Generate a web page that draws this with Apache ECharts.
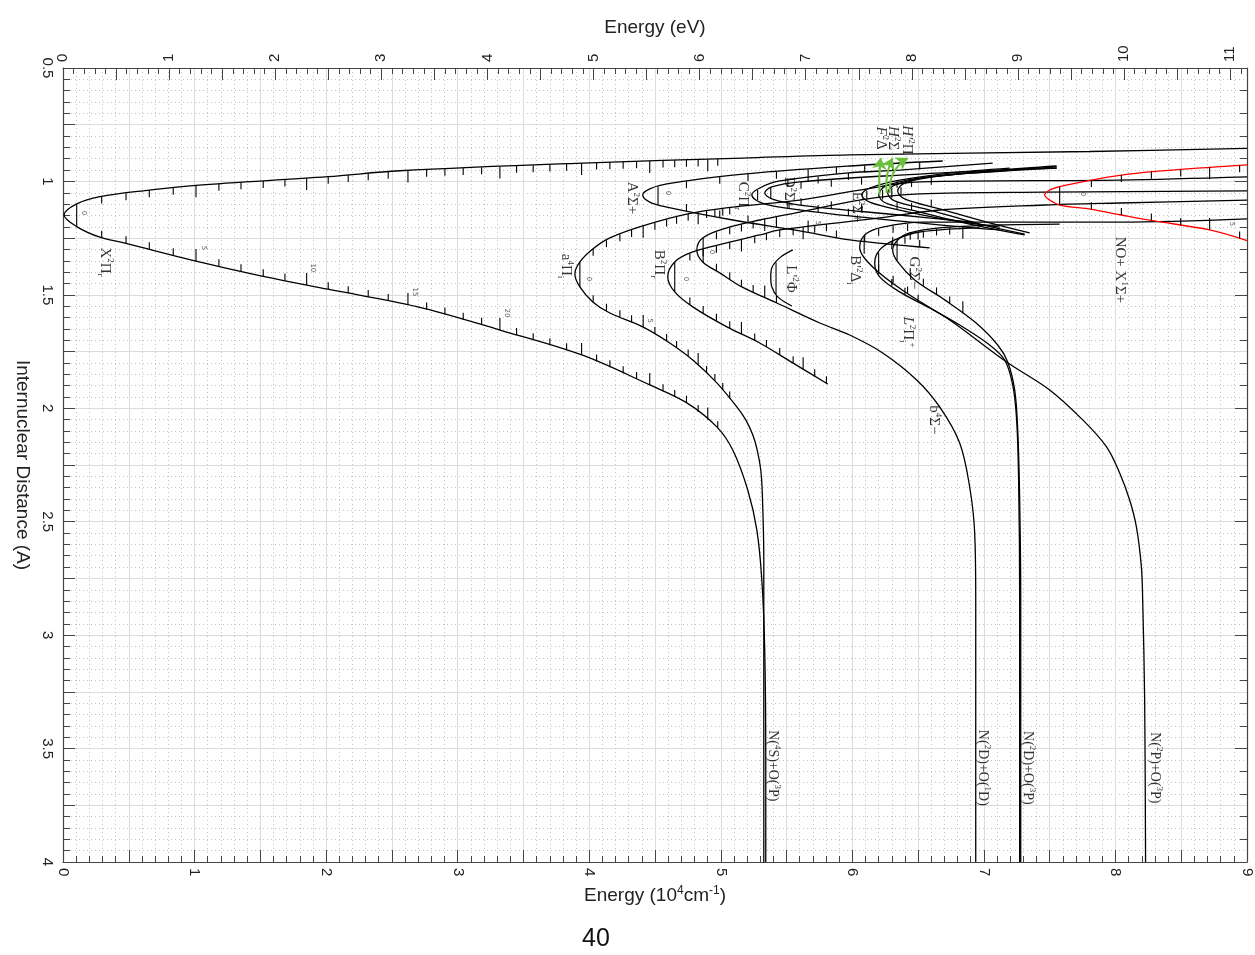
<!DOCTYPE html>
<html><head><meta charset="utf-8">
<script src="https://cdn.jsdelivr.net/npm/echarts@6/dist/echarts.min.js"></script>
<style>html,body{margin:0;padding:0;background:#fff}#c{width:1255px;height:955px}</style>
</head><body><div id="c"></div>
<script>
// ---- axis ranges / ticks ----
const energyMax = 9;            // 10^4 cm^-1
const eVMax = 9 * 1.239842;     // same range in eV
const rMin = 0.5, rMax = 4;

// ---- potential curves: [energy (10^4 cm^-1), r (A)] ----
const X2Pi = [[9.0,0.854],[7.804,0.868],[5.98,0.883],[5.167,0.897],[3.951,0.919],[2.561,0.953],[2.014,0.979],[1.011,1.017],[0.661,1.038],[0.281,1.067],[0.104,1.099],[0.008,1.148],[0.104,1.199],[0.281,1.246],[0.479,1.273],[1.011,1.351],[1.512,1.417],[2.014,1.475],[2.69,1.552],[3.321,1.655],[3.944,1.765],[4.46,1.897],[4.742,1.976],[4.97,2.082],[5.091,2.184],[5.205,2.36],[5.274,2.536],[5.312,2.756],[5.334,3.065],[5.342,3.55],[5.342,4.0]];
const a4Pi = [[9.0,0.98],[8.032,0.994],[6.512,1.002],[6.056,1.038],[5.6,1.082],[5.091,1.113],[4.749,1.143],[4.407,1.196],[4.157,1.249],[4.027,1.298],[3.929,1.355],[3.891,1.408],[3.929,1.465],[4.027,1.531],[4.157,1.58],[4.407,1.641],[4.612,1.712],[4.787,1.787],[4.97,1.888],[5.122,1.994],[5.19,2.051],[5.243,2.117],[5.277,2.184],[5.304,2.272],[5.316,2.38],[5.327,2.668],[5.327,3.285],[5.327,4.0]];
const B2Pi = [[9.0,1.082],[8.032,1.095],[7.462,1.104],[6.664,1.126],[6.208,1.161],[5.448,1.214],[5.296,1.236],[5.046,1.271],[4.787,1.311],[4.65,1.355],[4.597,1.421],[4.65,1.487],[4.787,1.553],[5.046,1.641],[5.296,1.712],[5.547,1.8],[5.813,1.893]];
const b4Sig = [[9.0,1.042],[7.462,1.047],[6.512,1.055],[6.056,1.082],[5.6,1.135],[5.296,1.17],[5.046,1.205],[4.863,1.249],[4.818,1.302],[4.863,1.355],[4.992,1.403],[5.16,1.465],[5.426,1.536],[5.752,1.624],[5.98,1.677],[6.231,1.756],[6.489,1.875],[6.664,1.994],[6.816,2.153],[6.892,2.347],[6.93,2.549],[6.938,2.845],[6.938,4.0]];
const Lp2Phi = [[5.547,1.302],[5.448,1.337],[5.388,1.381],[5.38,1.421],[5.388,1.465],[5.433,1.509],[5.54,1.549]];
const A2Sig = [[6.687,0.91],[5.98,0.932],[5.091,0.972],[4.59,1.011],[4.46,1.033],[4.407,1.06],[4.46,1.091],[4.59,1.113],[5.091,1.17],[5.6,1.218],[5.98,1.258],[6.588,1.293]];
const C2Pi = [[7.067,0.919],[6.36,0.95],[5.957,0.963],[5.448,0.998],[5.296,1.029],[5.236,1.06],[5.296,1.091],[5.448,1.113],[5.98,1.152],[6.74,1.196],[7.12,1.214]];
const D2Sig = [[7.553,0.941],[7.12,0.95],[6.36,0.972],[5.6,1.002],[5.388,1.024],[5.334,1.051],[5.388,1.077],[5.6,1.104],[6.36,1.148],[6.915,1.179]];
const E2Sig = [[7.196,0.941],[6.74,0.963],[6.36,0.994],[6.132,1.029],[6.071,1.06],[6.132,1.091],[6.36,1.126],[6.74,1.17],[7.12,1.201]];
const F2Del = [[7.553,0.941],[7.044,0.958],[6.512,0.985],[6.254,1.02],[6.201,1.06],[6.254,1.095],[6.512,1.135],[6.892,1.188],[7.31,1.236]];
const H2Sig = [[7.553,0.936],[7.12,0.954],[6.588,0.98],[6.322,1.016],[6.269,1.051],[6.322,1.086],[6.588,1.126],[6.968,1.188],[7.31,1.232]];
const Hp2Pi = [[7.553,0.932],[7.12,0.95],[6.664,0.976],[6.398,1.007],[6.345,1.042],[6.398,1.077],[6.664,1.121],[7.044,1.183],[7.348,1.227]];
const Bp2Del = [[9.0,1.165],[8.032,1.179],[7.12,1.179],[6.535,1.179],[6.231,1.201],[6.102,1.232],[6.056,1.289],[6.155,1.377],[6.413,1.492],[6.74,1.611],[7.173,1.796],[7.5,1.919],[7.751,2.051],[7.931,2.169],[8.032,2.285],[8.108,2.404],[8.159,2.522],[8.197,2.698],[8.207,2.845],[8.222,3.285],[8.229,4.0]];
const L2Pi = [[6.968,1.205],[6.512,1.223],[6.322,1.258],[6.208,1.302],[6.17,1.359],[6.208,1.421],[6.36,1.487],[6.588,1.558],[6.816,1.633],[7.044,1.721],[7.158,1.787],[7.219,1.897],[7.249,2.051],[7.264,2.316],[7.272,2.845],[7.272,4.0]];
const G2Sig = [[7.576,1.188],[7.12,1.192],[6.664,1.205],[6.436,1.227],[6.345,1.258],[6.307,1.302],[6.345,1.355],[6.474,1.434],[6.702,1.522],[6.93,1.619],[7.105,1.721],[7.181,1.796],[7.234,1.919],[7.257,2.095],[7.272,2.404],[7.28,2.845],[7.28,4.0]];
const NOp = [[9.0,0.927],[8.716,0.938],[8.283,0.957],[8.045,0.972],[7.817,0.994],[7.576,1.023],[7.5,1.038],[7.462,1.06],[7.5,1.082],[7.576,1.104],[7.817,1.123],[8.045,1.148],[8.283,1.173],[8.716,1.214],[9.0,1.261]];

// ---- vibrational level energies (10^4 cm^-1) ----
const X2PiLevels = [0.104,0.294,0.479,0.656,0.838,1.011,1.185,1.353,1.522,1.687,1.852,2.016,2.168,2.32,2.472,2.622,2.764,2.903,3.042,3.182,3.321,3.448,3.574,3.701,3.828,3.942,4.056,4.157,4.258,4.36,4.46,4.561,4.65,4.739,4.828,4.901,4.977];
const a4PiLevels = [3.929,4.03,4.131,4.233,4.322,4.41,4.499,4.588,4.664,4.752,4.828,4.892,4.955,5.015,5.068];
const B2PiLevels = [4.65,4.765,4.866,4.967,5.068,5.157,5.258,5.347,5.448,5.55,5.626,5.714,5.803];
const b4SigLevels = [4.866,4.967,5.068,5.157,5.246,5.334,5.423];
const Lp2PhiLevels = [5.42];
const A2SigLevels = [4.523,4.739,4.992,5.207,5.423,5.664,5.879,6.094,6.307,6.512];
const C2PiLevels = [5.28,5.51,5.74,5.97];
const D2SigLevels = [5.38,5.61,5.84,6.07];
const E2SigLevels = [6.11,6.34];
const F2DelLevels = [6.23,6.45];
const H2SigLevels = [6.3];
const Hp2PiLevels = [6.37,6.6];
const Bp2DelLevels = [6.09,6.2,6.31,6.42];
const L2PiLevels = [6.2,6.3,6.4,6.5];
const G2SigLevels = [6.34,6.44,6.54,6.64,6.74,6.84];
const NOpLevels = [7.576,7.817,8.045,8.273,8.496,8.716,8.944];

// ---- state labels: [energy, r, text] ----
const stateLabels = [
 [0.319,1.355,'{n|X}{p|2}{n|Π}{b|r}'],
 [4.324,1.073,'{n|A}{p|2}{n|Σ+}'],
 [5.167,1.064,'{n|C}{p|2}{n|Π}{b|r}'],
 [5.517,1.051,'{n|D}{p|2}{n|Σ+}'],
 [6.033,1.113,'{n|E}{p|2}{n|Σ+}'],
 [3.822,1.373,'{n|a}{p|4}{n|Π}{b|i}'],
 [4.529,1.364,'{n|B}{p|2}{n|Π}{b|r}'],
 [5.532,1.43,"{n|L'}{p|2}{n|Φ}"],
 [6.018,1.39,"{n|B'}{p|2}{n|Δ}{b|i}"],
 [6.467,1.403,'{n|G}{p|2}{n|Σ−}'],
 [6.421,1.664,'{i|L}{p|2}{n|Π}{b|i}{p|+}'],
 [6.619,2.051,'{n|b}{p|4}{n|Σ−}'],
 [8.032,1.39,'{n|NO+ X}{p|1}{n|Σ+}'],
 [6.216,0.809,'{i|F}{p|2}{n|Δ}'],
 [6.307,0.809,'{i|H}{p|2}{n|Σ}'],
 [6.413,0.817,"{i|H'}{p|2}{n|Π}"],
 [5.395,3.576,'{s|N(}{p|4}{s|S)+O(}{p|3}{s|P)}'],
 [6.991,3.585,'{s|N(}{p|2}{s|D)+O(}{p|1}{s|D)}'],
 [7.333,3.585,'{s|N(}{p|2}{s|D)+O(}{p|3}{s|P)}'],
 [8.298,3.585,'{s|N(}{p|2}{s|P)+O(}{p|3}{s|P)}']
];
// ---- vibrational numbering: [energy, r, text] ----
const levelLabels = [[0.16,1.139,'0'],[1.071,1.293,'5'],[1.9,1.381,'10'],[2.675,1.487,'15'],[3.374,1.58,'20'],[3.997,1.43,'0'],[4.46,1.614,'5'],[4.734,1.43,'0'],[4.932,1.311,'0'],[4.597,1.051,'0'],[7.751,1.055,'0'],[8.883,1.188,'5'],[5.737,1.183,'5']];
// ---- green arrows: from, to, curveness ----
const arrows = [
 [[6.208,1.06],[6.216,0.897],0.05],
 [[6.261,1.051],[6.307,0.897],0.15],
 [[6.284,1.051],[6.421,0.897],0.3]
];

const states = [
 {pts:X2Pi, lv:X2PiLevels},{pts:a4Pi, lv:a4PiLevels},{pts:B2Pi, lv:B2PiLevels},
 {pts:b4Sig, lv:b4SigLevels},{pts:Lp2Phi, lv:Lp2PhiLevels},{pts:A2Sig, lv:A2SigLevels},
 {pts:C2Pi, lv:C2PiLevels},{pts:D2Sig, lv:D2SigLevels},{pts:E2Sig, lv:E2SigLevels},
 {pts:F2Del, lv:F2DelLevels},{pts:H2Sig, lv:H2SigLevels},{pts:Hp2Pi, lv:Hp2PiLevels},
 {pts:Bp2Del, lv:Bp2DelLevels},{pts:L2Pi, lv:L2PiLevels},{pts:G2Sig, lv:G2SigLevels},
 {pts:NOp, lv:NOpLevels, color:'#ff0000'}
];

function rAt(br, E){
  for (let i=0;i<br.length-1;i++){
    const a=br[i], b=br[i+1];
    if (a[0]!==b[0] && (E-a[0])*(E-b[0])<=0) return a[1]+(b[1]-a[1])*(E-a[0])/(b[0]-a[0]);
  }
  return -1;
}
const tickData = [];
states.forEach(s=>{
  let mi=0; s.pts.forEach((p,i)=>{ if(p[0]<s.pts[mi][0]) mi=i; });
  const up=s.pts.slice(0,mi+1), lo=s.pts.slice(mi);
  s.lv.forEach((E,k)=>{ tickData.push([E, rAt(up,E), rAt(lo,E), k]); });
});

const series = [];
states.forEach(s=>{
  series.push({type:'line', data:s.pts, showSymbol:false, smooth:0.35, silent:true,
    lineStyle:{color:s.color||'#000', width:1.3}, z:3});
});
series.push({type:'custom', data:tickData, z:4, silent:true,
  dimensions:['E','ru','rl','k'], encode:{x:0,y:1},
  renderItem:function(params, api){
    const E=api.value(0), ru=api.value(1), rl=api.value(2), k=api.value(3);
    const st={stroke:'#000', lineWidth:1.1};
    const ch=[];
    if (k===0 && ru>0 && rl>0){
      const a=api.coord([E,ru]), b=api.coord([E,rl]);
      ch.push({type:'line', shape:{x1:a[0],y1:a[1],x2:b[0],y2:b[1]}, style:st});
    } else {
      const L=(k%5===0)?12:7;
      if (ru>0){ const a=api.coord([E,ru]); ch.push({type:'line', shape:{x1:a[0],y1:a[1],x2:a[0],y2:a[1]+L}, style:st}); }
      if (rl>0){ const b=api.coord([E,rl]); ch.push({type:'line', shape:{x1:b[0],y1:b[1],x2:b[0],y2:b[1]-L}, style:st}); }
    }
    return {type:'group', children:ch};
  }});
const serif = '"Liberation Serif","DejaVu Serif",serif';
series.push({type:'scatter', data:stateLabels, symbolSize:1, itemStyle:{color:'transparent'}, silent:true, z:5,
  label:{show:true, position:'inside', rotate:-90, formatter:p=>p.data[2], color:'#000',
    rich:{n:{fontSize:15, fontFamily:serif, lineHeight:19, color:'#000'},
          i:{fontSize:15, fontFamily:serif, fontStyle:'italic', lineHeight:19, color:'#000'},
          s:{fontSize:14, fontFamily:serif, lineHeight:18, color:'#000'},
          p:{fontSize:9, fontFamily:serif, verticalAlign:'top', lineHeight:10, color:'#000'},
          b:{fontSize:9, fontFamily:serif, verticalAlign:'bottom', lineHeight:10, color:'#000'}}}});
series.push({type:'scatter', data:levelLabels, symbolSize:1, itemStyle:{color:'transparent'}, silent:true, z:5,
  label:{show:true, position:'inside', rotate:-90, formatter:p=>p.data[2], fontSize:7, color:'#333', fontFamily:'"DejaVu Sans",sans-serif'}});
series.push({type:'lines', coordinateSystem:'cartesian2d', silent:true, z:6,
  symbol:['none','arrow'], symbolSize:11,
  lineStyle:{color:'#6cbf3c', width:2, opacity:1},
  data:arrows.map(a=>({coords:[a[0],a[1]], lineStyle:{curveness:a[2]}}))});

const axisCol = '#444';
const sans = '"Liberation Sans",Arial,sans-serif';
const option = {
  animation:false,
  grid:{left:63, right:8, top:68, bottom:93},
  xAxis:[
    {type:'value', position:'bottom', min:0, max:energyMax, interval:0.5,
     name:'{a|Energy (10}{s|4}{a|cm}{s|-1}{a|)}', nameLocation:'middle', nameGap:22,
     nameTextStyle:{rich:{a:{fontSize:19, fontFamily:sans, color:'#222', lineHeight:24}, s:{fontSize:12, fontFamily:sans, color:'#222', verticalAlign:'top', lineHeight:12}}},
     axisLine:{show:true, onZero:false, lineStyle:{color:axisCol, width:1.2}},
     axisTick:{show:true, inside:true, length:12, lineStyle:{color:axisCol}},
     minorTick:{show:true, splitNumber:5, length:6, lineStyle:{color:axisCol}},
     splitLine:{show:true, lineStyle:{color:'#dcdcdc', width:1}},
     minorSplitLine:{show:true, lineStyle:{color:'#c4c4c4', type:[1,3], width:1}},
     axisLabel:{formatter:v=>Number.isInteger(v)?String(v):'', rotate:-90, fontSize:15, color:'#222', fontFamily:sans, margin:6}},
    {type:'value', position:'top', min:0, max:eVMax, interval:0.5,
     name:'Energy (eV)', nameLocation:'middle', nameGap:29,
     nameTextStyle:{fontSize:19, fontFamily:sans, color:'#222'},
     axisLine:{show:true, onZero:false, lineStyle:{color:axisCol, width:1.2}},
     axisTick:{show:true, inside:true, length:12, lineStyle:{color:axisCol}},
     minorTick:{show:true, splitNumber:5, length:6, lineStyle:{color:axisCol}},
     splitLine:{show:false},
     axisLabel:{formatter:v=>Number.isInteger(v)?String(v):'', rotate:-90, fontSize:15, color:'#222', fontFamily:sans, margin:6}}
  ],
  yAxis:[
    {type:'value', position:'left', inverse:true, min:rMin, max:rMax, interval:0.25,
     name:'Internuclear Distance (A)', nameLocation:'middle', nameGap:31, nameRotate:-90,
     nameTextStyle:{fontSize:19, fontFamily:sans, color:'#222'},
     axisLine:{show:true, onZero:false, lineStyle:{color:axisCol, width:1.2}},
     axisTick:{show:true, inside:true, length:12, lineStyle:{color:axisCol}},
     minorTick:{show:true, splitNumber:5, length:7, lineStyle:{color:axisCol}},
     splitLine:{show:true, lineStyle:{color:'#dcdcdc', width:1}},
     minorSplitLine:{show:true, lineStyle:{color:'#c4c4c4', type:[1,3], width:1}},
     axisLabel:{formatter:v=>{const t=Math.round(v*100)/100; return Math.abs(t*2-Math.round(t*2))<1e-9?String(t):'';}, rotate:-90, fontSize:15, color:'#222', fontFamily:sans, margin:8}},
    {type:'value', position:'right', inverse:true, min:rMin, max:rMax, interval:0.5,
     axisLine:{show:true, onZero:false, lineStyle:{color:axisCol, width:1.2}},
     axisTick:{show:true, inside:true, length:12, lineStyle:{color:axisCol}},
     minorTick:{show:true, splitNumber:5, length:7, lineStyle:{color:axisCol}},
     splitLine:{show:false}, axisLabel:{show:false}}
  ],
  graphic:[{type:'text', left:582, top:927, style:{text:'40', fontSize:25, fontFamily:sans, fill:'#111'}}],
  series: series
};
const chart = echarts.init(document.getElementById('c'), null, {renderer:'canvas'});
chart.setOption(option);
</script>
</body></html>
